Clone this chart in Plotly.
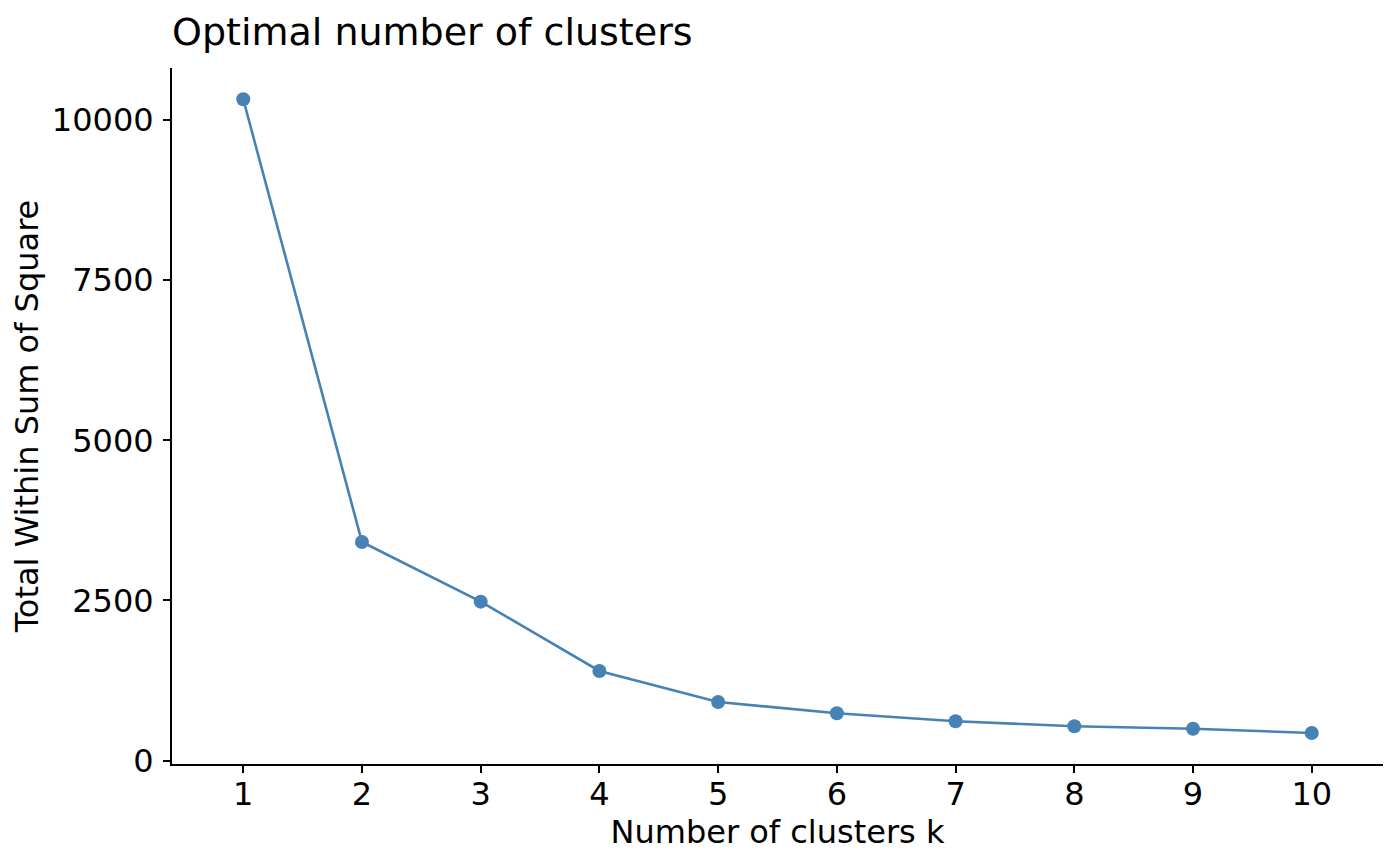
import plotly.graph_objects as go

k_values = [1, 2, 3, 4, 5, 6, 7, 8, 9, 10]
wss_values = [10323, 3413, 2482, 1400, 916, 740, 615, 537, 499, 432]
y_tick_vals = [0, 2500, 5000, 7500, 10000]
y_tick_text = ["0", "2500", "5000", "7500", "10000"]

color = "#4682B4"
font_family = "DejaVu Sans"

fig = go.Figure()
fig.add_trace(go.Scatter(
    x=k_values, y=wss_values, mode="lines+markers",
    line=dict(color=color, width=2.6),
    marker=dict(color=color, size=14),
    showlegend=False,
))

fig.update_layout(
    width=1400, height=866,
    margin=dict(l=164, r=25, t=60, b=110),
    paper_bgcolor="white", plot_bgcolor="white",
    font=dict(family=font_family, color="black"),
    title=dict(text="Optimal number of clusters", x=164/1400, xanchor="left",
               xref="container", y=1 - 24/866, yanchor="middle", yref="container",
               font=dict(size=38, family=font_family, color="black")),
)
fig.update_xaxes(
    range=[0.4, 10.6], tickmode="array", tickvals=k_values,
    ticktext=[str(k) for k in k_values], automargin=False,
    showgrid=False, zeroline=False, showline=True, linecolor="black", linewidth=2,
    ticks="outside", ticklen=7, tickwidth=2, tickcolor="black",
    tickfont=dict(size=32, color="black"), ticklabelstandoff=-6,
    title=dict(text="Number of clusters k", font=dict(size=32, color="black"), standoff=2),
)
fig.update_yaxes(
    range=[-52, 10811], tickmode="array", tickvals=y_tick_vals, ticktext=y_tick_text,
    automargin=False,
    showgrid=False, zeroline=False, showline=True, linecolor="black", linewidth=2,
    ticks="outside", ticklen=7, tickwidth=2, tickcolor="black",
    tickfont=dict(size=32, color="black"), ticklabelstandoff=3,
    title=dict(text="Total Within Sum of Square", font=dict(size=32, color="black"), standoff=12),
)

fig.write_html("out.html")
